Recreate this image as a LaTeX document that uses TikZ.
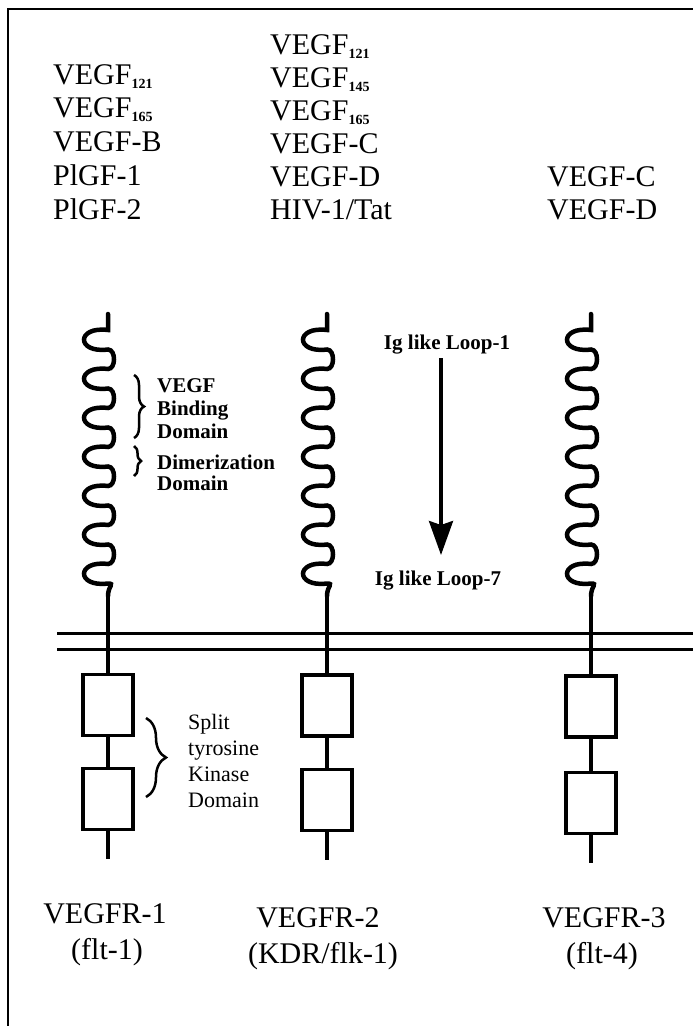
\documentclass[tikz,border=0pt]{standalone}
\usepackage{fontspec}
\setmainfont{Liberation Serif}
\usetikzlibrary{arrows.meta, decorations.pathreplacing}

\newcommand{\isoform}[1]{\raisebox{-4.5pt}{\fontsize{14}{14}\selectfont\bfseries #1}}

\begin{document}
\begin{tikzpicture}[
    x=1pt, y=-1pt,
    ligand/.style={font=\fontsize{30}{30}\selectfont, anchor=base west, inner sep=0pt},
    receptor/.style={font=\fontsize{30}{30}\selectfont, anchor=base, inner sep=0pt},
    domlabel/.style={font=\fontsize{21}{23}\selectfont\bfseries, align=left, anchor=west, inner sep=0pt},
    looplabel/.style={font=\fontsize{21}{21}\selectfont\bfseries, anchor=base, inner sep=0pt},
    kinase/.style={draw, line width=3.5pt, minimum width=50pt, minimum height=61pt, inner sep=0pt},
    igchain/.style={line width=4.5pt, line cap=round},
    stem/.style={line width=4.5pt},
    membrane/.style={line width=3pt},
    bracel/.style={decorate, line width=2.5pt},
    arr/.style={-{Stealth[length=34pt, width=24pt, inset=4pt]}, line width=3.5pt},
]
\useasboundingbox (0,0) rectangle (693,1026);

% === Frame ===
\draw[line width=2.5pt] (8,1026) -- (8,9) -- (693,9);

% === Ligands ===
\node[ligand] (a1) at (53,84) {VEGF\isoform{121}};
\node[ligand] (a2) at (53,117) {VEGF\isoform{165}};
\node[ligand] (a3) at (53,151) {VEGF-B};
\node[ligand] (a4) at (53,185) {PlGF-1};
\node[ligand] (a5) at (53,219) {PlGF-2};

\node[ligand] (b1) at (270,54) {VEGF\isoform{121}};
\node[ligand] (b2) at (270,87) {VEGF\isoform{145}};
\node[ligand] (b3) at (270,120) {VEGF\isoform{165}};
\node[ligand] (b4) at (270,153) {VEGF-C};
\node[ligand] (b5) at (270,186) {VEGF-D};
\node[ligand] (b6) at (270,219) {HIV-1/Tat};

\node[ligand] (c1) at (547,186) {VEGF-C};
\node[ligand] (c2) at (547,219) {VEGF-D};

% === Ig like loops ===
\foreach \cx/\nm in {108/w1, 327/w2, 591/w3} {
  \draw[igchain] (\cx,314) -- (\cx,330)
    .. controls ({\cx-32},326) and ({\cx-32},353.5) .. (\cx,349.5)
    \foreach \k in {1,...,6} {
      .. controls ({\cx+8},{349.5+39*(\k-1)}) and ({\cx+8},{330+39*\k}) .. (\cx,{330+39*\k})
      .. controls ({\cx-32},{326+39*\k}) and ({\cx-32},{353.5+39*\k}) .. (\cx,{349.5+39*\k})
    }
    .. controls ({\cx+7},583.5) and (\cx,586) .. (\cx,596) coordinate (\nm);
}

% === Domain labels ===
\draw[bracel, decoration={brace, amplitude=10pt}] (134,375) -- (134,438);
\node[domlabel] (bind) at (157,409) {VEGF\\Binding\\Domain};
\draw[bracel, decoration={brace, amplitude=7pt}] (134,446) -- (134,476);
\node[domlabel, font=\fontsize{21}{20.5}\selectfont\bfseries] (dimer) at (157,473) {Dimerization\\Domain};

\node[looplabel] (loop1) at (447,349) {Ig like Loop-1};
\node[looplabel] (loop7) at (438,585) {Ig like Loop-7};
\coordinate (arrtop) at (441,358);
\coordinate (arrtip) at (441,555);
\draw[arr] (arrtop) -- (arrtip);

% === Membrane ===
\draw[membrane] (57,633) -- (693,633);
\draw[membrane] (57,649) -- (693,649);

% === Kinase boxes ===
\node[kinase] (r1a) at (108,705) {};
\node[kinase] (r1b) at (108,799) {};
\node[kinase] (r2a) at (327,705.5) {};
\node[kinase] (r2b) at (327,800) {};
\node[kinase] (r3a) at (591,706.5) {};
\node[kinase] (r3b) at (591,803) {};

\coordinate (e1) at (108,859);
\coordinate (e2) at (327,860);
\coordinate (e3) at (591,863);

\draw[stem] (w1) -- (r1a);
\draw[stem] (r1a) -- (r1b);
\draw[stem] (r1b) -- (e1);
\draw[stem] (w2) -- (r2a);
\draw[stem] (r2a) -- (r2b);
\draw[stem] (r2b) -- (e2);
\draw[stem] (w3) -- (r3a);
\draw[stem] (r3a) -- (r3b);
\draw[stem] (r3b) -- (e3);

\draw[bracel, decoration={brace, amplitude=20pt}] (146,718) -- (146,797);
\node[domlabel, font=\fontsize{22}{26}\selectfont] (split) at (188,761) {Split\\tyrosine\\Kinase\\Domain};

% === Receptor names ===
\node[receptor] (n1) at (105,923) {VEGFR-1};
\node[receptor] (m1) at (107,959) {(flt-1)};
\node[receptor] (n2) at (318,927) {VEGFR-2};
\node[receptor] (m2) at (323,963) {(KDR/flk-1)};
\node[receptor] (n3) at (604,927) {VEGFR-3};
\node[receptor] (m3) at (602,963) {(flt-4)};

\end{tikzpicture}
\end{document}
